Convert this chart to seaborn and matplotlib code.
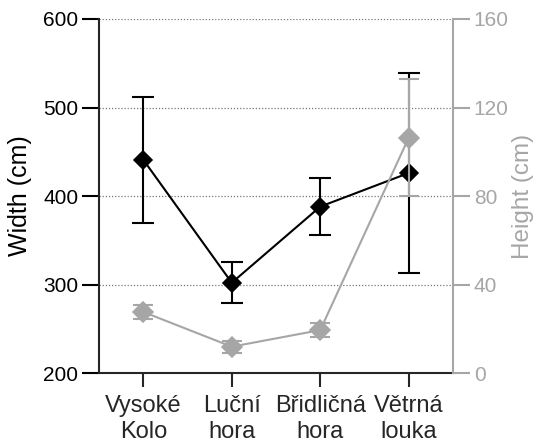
import seaborn as sns
import matplotlib.pyplot as plt
import pandas as pd

sites = ['Vysoké\nKolo', 'Luční\nhora', 'Břidličná\nhora', 'Větrná\nlouka']
width_mean = [441, 302, 388, 426]
width_err = [71, 23, 32, 113]
height_mean = [27.6, 11.9, 19.4, 106.4]
height_err = [3.0, 2.7, 3.0, 26.5]

grey = '#a6a6a6'

sns.set_style('ticks')
plt.rcParams['font.family'] = ['Liberation Sans', 'DejaVu Sans']

df = pd.DataFrame({'site': sites, 'width': width_mean, 'height': height_mean})

fig = plt.figure(figsize=(5.37, 4.47), dpi=100)
ax = fig.add_axes([0.1844, 0.1655, 0.8436 - 0.1844, 0.9575 - 0.1655])
ax2 = ax.twinx()

# width (left axis, black)
ax.errorbar(range(len(sites)), width_mean, yerr=width_err, fmt='none',
            ecolor='black', elinewidth=1.5, capsize=8, capthick=1.5, zorder=3)
sns.pointplot(data=df, x='site', y='width', color='black', markers='D',
              errorbar=None, linewidth=1.5, markersize=9.5, ax=ax, zorder=4)

# height (right axis, grey)
ax2.errorbar(range(len(sites)), height_mean, yerr=height_err, fmt='none',
             ecolor=grey, elinewidth=1.5, capsize=7, capthick=1.5, zorder=3)
sns.pointplot(data=df, x='site', y='height', color=grey, markers='D',
              errorbar=None, linewidth=1.5, markersize=10, ax=ax2, zorder=4)

ax.set_xlim(-0.5, 3.5)
ax.set_ylim(200, 600)
ax.set_yticks([200, 300, 400, 500, 600])
ax2.set_ylim(0, 160)
ax2.set_yticks([0, 40, 80, 120, 160])

for y in [300, 400, 500, 600]:
    ax.axhline(y, color='#777777', linestyle=(0, (1, 1.5)), linewidth=0.9, zorder=0)

ax.set_xlabel('')
ax.set_ylabel('Width (cm)', fontsize=18, color='black', labelpad=8)
ax2.set_ylabel('Height (cm)', fontsize=17.5, color=grey, labelpad=2)
ax2.set_xlabel('')

ax.spines['top'].set_visible(False)
ax2.spines['top'].set_visible(False)
ax.spines['right'].set_visible(False)
ax2.spines['left'].set_visible(False)
ax2.spines['bottom'].set_visible(False)
ax.spines['left'].set_linewidth(1.5)
ax.spines['bottom'].set_linewidth(1.5)
ax2.spines['right'].set_linewidth(1.5)
ax2.spines['right'].set_color(grey)

ax.tick_params(axis='y', length=12, width=1.5, labelsize=15, colors='black', pad=3)
ax.tick_params(axis='x', length=10, width=1.5, labelsize=17, pad=6)
ax2.tick_params(axis='y', length=12, width=1.5, labelsize=15, colors=grey, pad=3)

plt.savefig('out.png', dpi=100)
